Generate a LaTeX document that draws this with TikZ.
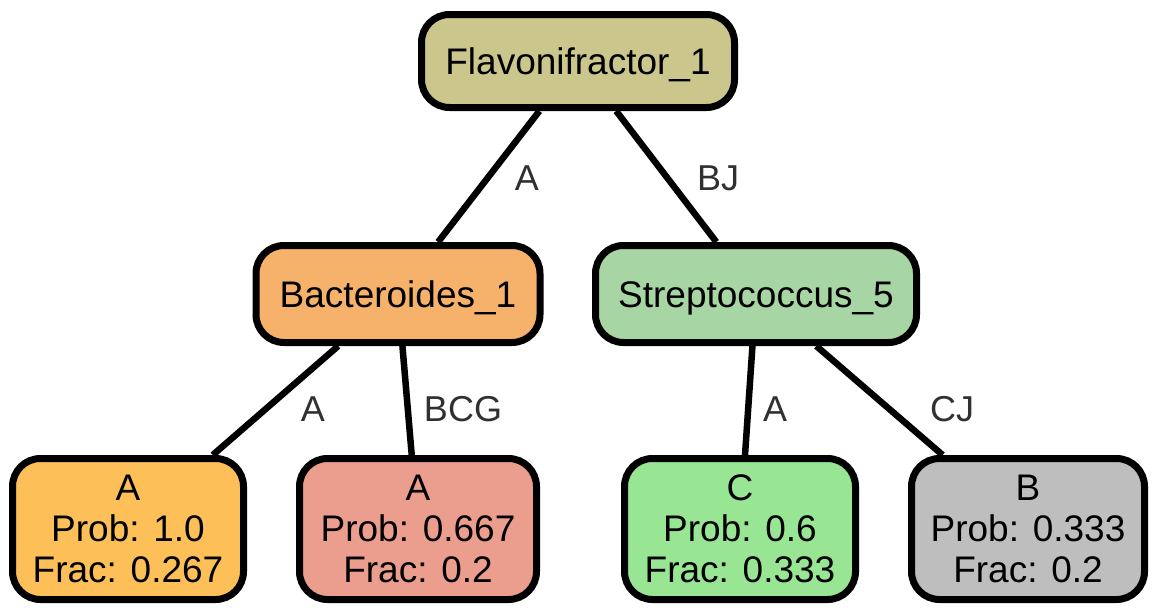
\documentclass[tikz,border=0pt]{standalone}
\usepackage{fontspec}
\setmainfont{Liberation Sans}
\definecolor{cflav}{HTML}{CBC68B}
\definecolor{cbact}{HTML}{F6B26B}
\definecolor{cstrep}{HTML}{A8D5A4}
\definecolor{cleafa}{HTML}{FDC059}
\definecolor{cleafb}{HTML}{EB9D8E}
\definecolor{cleafc}{HTML}{98E594}
\definecolor{cleafd}{HTML}{BEBEBE}
\definecolor{clab}{HTML}{303030}
\tikzset{
  box/.style={draw=black, line width=7pt, rounded corners=28pt, inner sep=0pt,
    align=center, font=\fontsize{37}{41}\selectfont},
  mid/.style={box, text depth=0pt, text height=27pt},
  leaf/.style={box, minimum width=231pt, minimum height=141pt},
  conn/.style={draw=black, line width=6.5pt},
  lab/.style={text=clab, font=\fontsize{36}{40}\selectfont, inner sep=0pt}
}
\begin{document}
\begin{tikzpicture}[x=1pt,y=-1pt]
\useasboundingbox (0,0) rectangle (1160,613);
\node[mid, fill=cflav, minimum width=313pt, minimum height=93pt] (flav) at (578,61) {Flavonifractor\_1};
\node[mid, fill=cbact, minimum width=284pt, minimum height=97pt] (bact) at (398,294) {Bacteroides\_1};
\node[mid, fill=cstrep, minimum width=321pt, minimum height=97pt] (strep) at (756,294) {Streptococcus\_5};
\node[leaf, fill=cleafa] (l1) at (128,529) {A\\Prob: 1.0\\Frac: 0.267};
\node[leaf, fill=cleafb, minimum width=237pt] (l2) at (418,529) {A\\Prob: 0.667\\Frac: 0.2};
\node[leaf, fill=cleafc] (l3) at (740,529) {C\\Prob: 0.6\\Frac: 0.333};
\node[leaf, fill=cleafd, minimum width=233pt] (l4) at (1028,529) {B\\Prob: 0.333\\Frac: 0.2};
\draw[conn] (flav) -- (bact);
\draw[conn] (flav) -- (strep);
\draw[conn] (bact) -- (l1);
\draw[conn] (bact) -- (l2);
\draw[conn] (strep) -- (l3);
\draw[conn] (strep) -- (l4);
\node[lab] (e1) at (527,178) {A};
\node[lab] (e2) at (718,178) {BJ};
\node[lab] (e3) at (313,409) {A};
\node[lab] (e4) at (463,409) {BCG};
\node[lab] (e5) at (775,409) {A};
\node[lab] (e6) at (952,409) {CJ};
\end{tikzpicture}
\end{document}
